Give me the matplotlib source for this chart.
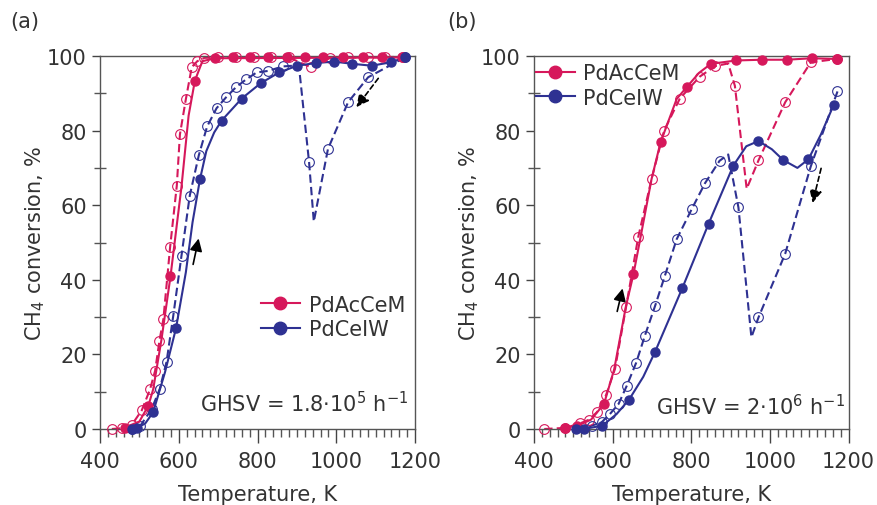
import numpy as np
import matplotlib.pyplot as plt
from matplotlib.ticker import MultipleLocator

# Colours
RED = '#d6185b'
BLUE = '#2e3192'
TXT = '#333333'

# ---------------- panel (a): GHSV = 1.8e5 h-1 ----------------
# PdAcCeM heating (filled markers, solid line)
a_red_heat_T = [463, 523, 579, 641, 692, 738, 782, 827, 874, 920, 967, 1018, 1067, 1115, 1166]
a_red_heat_y = [0.4, 6.3, 40.9, 93.4, 99.4, 99.6, 99.6, 99.6, 99.6, 99.6, 99.6, 99.6, 99.7, 99.7, 99.6]
a_red_heat_line_T = [463, 500, 523, 535, 556, 579, 607, 625, 641, 660, 692, 1166]
a_red_heat_line_y = [0.4, 2, 6.3, 10.6, 23.9, 40.9, 65, 84, 93.4, 98.6, 99.4, 99.6]
# PdAcCeM cooling (open markers, dashed line)
a_red_cool_T = [430, 455, 480, 506, 527, 540, 551, 561, 578, 595, 603, 618, 633, 647, 665,
                700, 745, 790, 835, 880, 935, 985, 1030, 1080, 1125, 1170]
a_red_cool_y = [0, 0.2, 1, 5, 10.6, 15.6, 23.7, 29.5, 48.7, 65.2, 79, 88.4, 97, 98.6, 99.5,
                99.6, 99.7, 99.7, 99.7, 99.6, 97, 99.5, 99.6, 99.6, 99.7, 99.8]
# PdCeIW heating
a_blue_heat_T = [480, 493, 535, 593, 654, 709, 760, 808, 855, 901, 948, 994, 1041, 1090, 1138, 1174]
a_blue_heat_y = [0, 0.2, 4.5, 27, 67, 82.7, 88.6, 92.7, 95.6, 97.4, 98.1, 98.5, 97.9, 97.4, 98.3, 99.6]
a_blue_heat_line_T = [480, 493, 515, 535, 565, 593, 618, 635, 654, 670, 690, 709, 760, 808, 855, 901,
                      948, 994, 1041, 1090, 1138, 1174]
a_blue_heat_line_y = [0, 0.2, 1.5, 4.5, 15.2, 27, 42, 55.4, 67, 74.5, 79.5, 82.7, 88.6, 92.7, 95.6, 97.4,
                      98.1, 98.5, 97.9, 97.4, 98.3, 99.6]
# PdCeIW cooling
a_blue_cool_T = [1174, 1081, 1030, 979, 931, 864, 827, 798, 772, 745, 720, 696, 672, 651, 628,
                 607, 586, 569, 552, 531, 502, 480]
a_blue_cool_y = [99.6, 94.3, 87.6, 75.1, 71.5, 97.2, 96.0, 95.6, 93.8, 91.6, 88.9, 86, 81.1, 73.4, 62.6,
                 46.5, 30.3, 18.0, 10.8, 5.3, 0.8, 0]
a_blue_cool_line_T = [1174, 1081, 1030, 979, 943, 931, 905, 864, 827, 798, 772, 745, 720, 696, 672,
                      651, 628, 607, 586, 569, 552, 531, 502, 480]
a_blue_cool_line_y = [99.6, 94.3, 87.6, 75.1, 55.6, 71.5, 97.5, 97.2, 96.0, 95.6, 93.8, 91.6, 88.9, 86,
                      81.1, 73.4, 62.6, 46.5, 30.3, 18.0, 10.8, 5.3, 0.8, 0]

# ---------------- panel (b): GHSV = 2e6 h-1 ----------------
b_red_heat_T = [479, 509, 578, 653, 722, 788, 850, 914, 979, 1043, 1107, 1170]
b_red_heat_y = [0.4, 0.8, 6.7, 41.5, 76.9, 91.6, 97.9, 98.8, 99.0, 99.0, 99.4, 99.2]
b_red_heat_line_T = [479, 509, 545, 578, 604, 634, 653, 671, 699, 722, 763, 788, 820, 850,
                     914, 979, 1043, 1107, 1170]
b_red_heat_line_y = [0.4, 0.8, 2.5, 6.7, 16, 33, 41.5, 51.4, 67, 76.9, 88.5, 91.6, 95.5, 97.9,
                     98.8, 99.0, 99.0, 99.4, 99.2]
b_red_cool_T = [426, 480, 517, 540, 560, 583, 606, 634, 665, 699, 731, 771, 822, 861, 911,
                971, 1039, 1104, 1170]
b_red_cool_y = [0, 0.3, 1.5, 2.5, 4.5, 9, 16.1, 32.6, 51.4, 67, 80, 88.6, 94.5, 97.3, 92,
                72, 87.6, 98.3, 99.2]
b_red_cool_line_T = [426, 480, 517, 540, 560, 583, 606, 634, 665, 699, 731, 771, 822, 861, 894,
                     911, 941, 971, 1039, 1104, 1170]
b_red_cool_line_y = [0, 0.3, 1.5, 2.5, 4.5, 9, 16.1, 32.6, 51.4, 67, 80, 88.6, 94.5, 97.3, 98,
                     92, 64.4, 72, 87.6, 98.3, 99.2]
b_blue_heat_T = [507, 527, 574, 642, 708, 777, 844, 907, 971, 1034, 1098, 1162]
b_blue_heat_y = [0, 0, 0.9, 7.9, 20.7, 37.7, 55.0, 70.6, 77.2, 72.1, 72.3, 86.8]
b_blue_heat_line_T = [507, 527, 574, 610, 642, 678, 708, 777, 844, 907, 940, 971, 1005,
                      1034, 1070, 1098, 1130, 1162]
b_blue_heat_line_y = [0, 0, 0.9, 4, 7.9, 14, 20.7, 37.7, 55.0, 70.6, 75.8, 77.2, 75,
                      72.1, 70.0, 72.3, 79, 86.8]
b_blue_cool_T = [1172, 1104, 1039, 971, 920, 872, 835, 801, 763, 733, 708, 682, 660, 636,
                 615, 593, 572, 547]
b_blue_cool_y = [90.5, 70.4, 47, 29.9, 59.4, 71.9, 65.9, 58.9, 50.9, 41.1, 33.0, 25.0, 17.8, 11.6,
                 6.7, 4.0, 1.8, 0.9]
b_blue_cool_line_T = [1172, 1104, 1039, 971, 953, 920, 894, 872, 835, 801, 763, 733, 708, 682,
                      660, 636, 615, 593, 572, 547, 520]
b_blue_cool_line_y = [90.5, 70.4, 47, 29.9, 24.6, 59.4, 73.6, 71.9, 65.9, 58.9, 50.9, 41.1, 33.0,
                      25.0, 17.8, 11.6, 6.7, 4.0, 1.8, 0.9, 0]

plt.rcParams['font.family'] = ['DejaVu Sans']
plt.rcParams['font.size'] = 15
plt.rcParams['text.color'] = TXT
plt.rcParams['mathtext.fontset'] = 'dejavusans'
plt.rcParams['xtick.minor.visible'] = True
plt.rcParams['ytick.minor.visible'] = True

fig = plt.figure(figsize=(8.77, 5.06), dpi=100)
ax_a = fig.add_axes([100 / 877, 76 / 506, 315 / 877, 373 / 506])
ax_b = fig.add_axes([534 / 877, 76 / 506, 314.5 / 877, 373 / 506])


def draw_series(ax, heat_T, heat_y, heat_lT, heat_ly, cool_T, cool_y, cool_lT, cool_ly, color):
    ax.plot(cool_lT, cool_ly, color=color, lw=1.5, dashes=(4, 2), zorder=2, clip_on=False)
    ax.plot(cool_T, cool_y, 'o', ms=7, mfc='none', mec=color, mew=0.8, zorder=3, clip_on=False)
    ax.plot(heat_lT, heat_ly, color=color, lw=1.5, zorder=4, clip_on=False)
    ax.plot(heat_T, heat_y, 'o', ms=6.5, color=color, zorder=5, clip_on=False)


def style_axes(ax):
    ax.set_xlim(400, 1200)
    ax.set_ylim(0, 100)
    ax.set_xticks(np.arange(400, 1201, 200))
    ax.set_xticks(np.arange(420, 1200, 20), minor=True)
    ax.yaxis.set_major_locator(MultipleLocator(20))
    ax.yaxis.set_minor_locator(MultipleLocator(10))
    ax.tick_params(axis='x', which='major', direction='out', length=10, width=1, colors='#444444',
                   labelcolor=TXT, labelsize=15, pad=6)
    ax.tick_params(axis='x', which='minor', direction='out', length=6, width=1, colors='#555555',
                   bottom=True, top=False)
    ax.tick_params(axis='y', which='major', direction='out', length=6, width=1, colors='#444444',
                   labelcolor=TXT, labelsize=15)
    ax.tick_params(axis='y', which='minor', direction='inout', length=8, width=1, colors='#555555',
                   left=True, right=False)
    for s in ax.spines.values():
        s.set_color('#555555')
        s.set_linewidth(1)
    ax.set_xlabel('Temperature, K', fontsize=15, color=TXT, labelpad=9)
    ax.set_ylabel('CH$_4$ conversion, %', fontsize=15, color=TXT, labelpad=0)


arrow_solid = dict(arrowstyle='-|>,head_length=0.5,head_width=0.25', color='black', lw=1.2)
arrow_dash = dict(arrowstyle='-|>,head_length=0.5,head_width=0.25', color='black', lw=1.2,
                  linestyle=(0, (3, 2)))

# panel (a)
draw_series(ax_a, a_red_heat_T, a_red_heat_y, a_red_heat_line_T, a_red_heat_line_y,
            a_red_cool_T, a_red_cool_y, a_red_cool_T, a_red_cool_y, RED)
draw_series(ax_a, a_blue_heat_T, a_blue_heat_y, a_blue_heat_line_T, a_blue_heat_line_y,
            a_blue_cool_T, a_blue_cool_y, a_blue_cool_line_T, a_blue_cool_line_y, BLUE)
ax_a.annotate('', xy=(652, 51.8), xytext=(635, 43.4), arrowprops=arrow_solid)
ax_a.annotate('', xy=(1047, 85.7), xytext=(1111, 94.6), arrowprops=arrow_dash)
ax_a.text(0.98, 0.07, 'GHSV = 1.8$\\cdot$10$^5$ h$^{-1}$', transform=ax_a.transAxes,
          ha='right', va='center', fontsize=15)

# panel (b)
draw_series(ax_b, b_red_heat_T, b_red_heat_y, b_red_heat_line_T, b_red_heat_line_y,
            b_red_cool_T, b_red_cool_y, b_red_cool_line_T, b_red_cool_line_y, RED)
draw_series(ax_b, b_blue_heat_T, b_blue_heat_y, b_blue_heat_line_T, b_blue_heat_line_y,
            b_blue_cool_T, b_blue_cool_y, b_blue_cool_line_T, b_blue_cool_line_y, BLUE)
ax_b.annotate('', xy=(627, 38.4), xytext=(610, 30.8), arrowprops=arrow_solid)
ax_b.annotate('', xy=(1107, 59.9), xytext=(1132, 70.6), arrowprops=arrow_dash)
ax_b.text(0.99, 0.062, 'GHSV = 2$\\cdot$10$^6$ h$^{-1}$', transform=ax_b.transAxes,
          ha='right', va='center', fontsize=15)

# legends: filled marker + solid line handles
for ax, anchor in [(ax_a, (0.51, 0.36)), (ax_b, (0.005, 0.98))]:
    handles = [plt.Line2D([], [], color=c, lw=1.5, marker='o', ms=9) for c in (RED, BLUE)]
    ax.legend(handles, ['PdAcCeM', 'PdCeIW'], loc='upper left', bbox_to_anchor=anchor,
              frameon=False, handlelength=1.9, handletextpad=0.4, labelspacing=0.2,
              borderpad=0, borderaxespad=0, fontsize=15)

# axis styling last, so nothing drawn afterwards resets the ticks
style_axes(ax_a)
style_axes(ax_b)

fig.text(10 / 877, 1 - 22 / 506, '(a)', ha='left', va='center', fontsize=15)
fig.text(447 / 877, 1 - 22 / 506, '(b)', ha='left', va='center', fontsize=15)

fig.savefig('out.png', dpi=100)
